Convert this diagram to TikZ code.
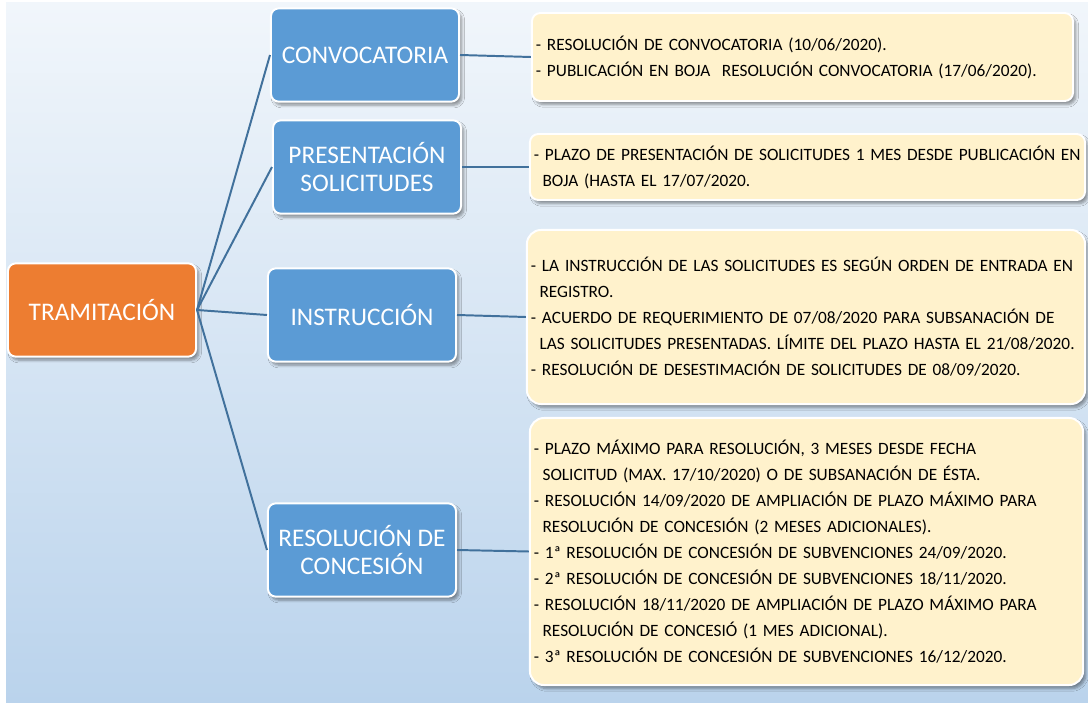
\documentclass[tikz,border=0pt]{standalone}
\usepackage{fontspec}
\setmainfont{Carlito}
\usetikzlibrary{shadows.blur}

\definecolor{naranja}{HTML}{ED7D31}
\definecolor{azul}{HTML}{5B9BD5}
\definecolor{amarillo}{HTML}{FFF2CC}
\definecolor{linea}{HTML}{41719C}
\definecolor{fondoarriba}{HTML}{F1F6FB}
\definecolor{fondomedio}{HTML}{CCDFF1}
\definecolor{fondoabajo}{HTML}{BAD3EC}

\begin{document}
\begin{tikzpicture}[x=0.025cm, y=-0.025cm]
		% Definición de estilos
		\tikzset{
			caja/.style={rectangle, draw=white, line width=1.4pt, rounded corners=5.5pt,
				minimum width=4.7cm, minimum height=2.33cm, align=center, text=white,
				font=\fontsize{18}{19.5}\selectfont,
				blur shadow={shadow xshift=2pt, shadow yshift=-2.5pt, shadow blur steps=6, shadow opacity=40}},
			central/.style={caja, fill=naranja},
			fase/.style={caja, fill=azul},
			detalle/.style={rectangle, draw=white, line width=1.4pt, fill=amarillo, align=left,
				inner xsep=0.1cm, inner ysep=0pt, font=\fontsize{12.3}{18.5}\selectfont,
				blur shadow={shadow xshift=2pt, shadow yshift=-2.5pt, shadow blur steps=6, shadow opacity=40}},
			conector/.style={draw=linea, line width=1.4pt}
		}
		\newcommand{\sigue}{\hspace*{0.5em}}

		% Fondo
		\useasboundingbox (0,0) rectangle (1088,703);
		\shade[top color=fondoarriba, middle color=fondomedio, bottom color=fondoabajo] (6,3) rectangle (1088,703);

		% Nodos
		\node [central] (tram) at (102,310) {TRAMITACIÓN};
		\node [fase] (conv) at (365,55) {CONVOCATORIA};
		\node [fase] (pres) at (367,167) {PRESENTACIÓN\\SOLICITUDES};
		\node [fase] (instr) at (362,315) {INSTRUCCIÓN};
		\node [fase] (resol) at (362,550) {RESOLUCIÓN DE\\CONCESIÓN};

		\node [detalle, rounded corners=6pt, text width=13.325cm, minimum height=2.2cm] (dconv) at (802.5,57)
			{- RESOLUCIÓN DE CONVOCATORIA (10/06/2020).\\
			 \mbox{- PUBLICACIÓN EN BOJA\ \ RESOLUCIÓN CONVOCATORIA (17/06/2020).}};
		\node [detalle, rounded corners=6pt, text width=13.675cm, minimum height=1.65cm] (dpres) at (807.5,167)
			{\mbox{- PLAZO DE PRESENTACIÓN DE SOLICITUDES 1 MES DESDE PUBLICACIÓN EN}\\
			 \sigue BOJA (HASTA EL 17/07/2020.};
		\node [detalle, rounded corners=10pt, text width=13.75cm, minimum height=4.35cm] (dinstr) at (806,317)
			{\mbox{- LA INSTRUCCIÓN DE LAS SOLICITUDES ES SEGÚN ORDEN DE ENTRADA EN}\\
			 \sigue REGISTRO.\\
			 \mbox{- ACUERDO DE REQUERIMIENTO DE 07/08/2020 PARA SUBSANACIÓN DE}\\
			 \sigue \mbox{LAS SOLICITUDES PRESENTADAS. LÍMITE DEL PLAZO HASTA EL 21/08/2020.}\\
			 - RESOLUCIÓN DE DESESTIMACIÓN DE SOLICITUDES DE 08/09/2020.};
		\node [detalle, rounded corners=10pt, text width=13.625cm, minimum height=6.675cm] (dresol) at (806.5,551.5)
			{- PLAZO MÁXIMO PARA RESOLUCIÓN, 3 MESES DESDE FECHA\\
			 \sigue SOLICITUD (MAX. 17/10/2020) O DE SUBSANACIÓN DE ÉSTA.\\
			 - RESOLUCIÓN 14/09/2020 DE AMPLIACIÓN DE PLAZO MÁXIMO PARA\\
			 \sigue RESOLUCIÓN DE CONCESIÓN (2 MESES ADICIONALES).\\
			 - 1ª RESOLUCIÓN DE CONCESIÓN DE SUBVENCIONES 24/09/2020.\\
			 - 2ª RESOLUCIÓN DE CONCESIÓN DE SUBVENCIONES 18/11/2020.\\
			 - RESOLUCIÓN 18/11/2020 DE AMPLIACIÓN DE PLAZO MÁXIMO PARA\\
			 \sigue RESOLUCIÓN DE CONCESIÓ (1 MES ADICIONAL).\\
			 - 3ª RESOLUCIÓN DE CONCESIÓN DE SUBVENCIONES 16/12/2020.};

		% Conexiones
		\foreach \f in {conv, pres, instr, resol}
			\path [conector] (tram.east) -- (\f.west);
		\path [conector] (conv.east) -- (dconv.west);
		\path [conector] (pres.east) -- (dpres.west);
		\path [conector] (instr.east) -- (dinstr.west);
		\path [conector] (resol.east) -- (dresol.west);
	\end{tikzpicture}
\end{document}
